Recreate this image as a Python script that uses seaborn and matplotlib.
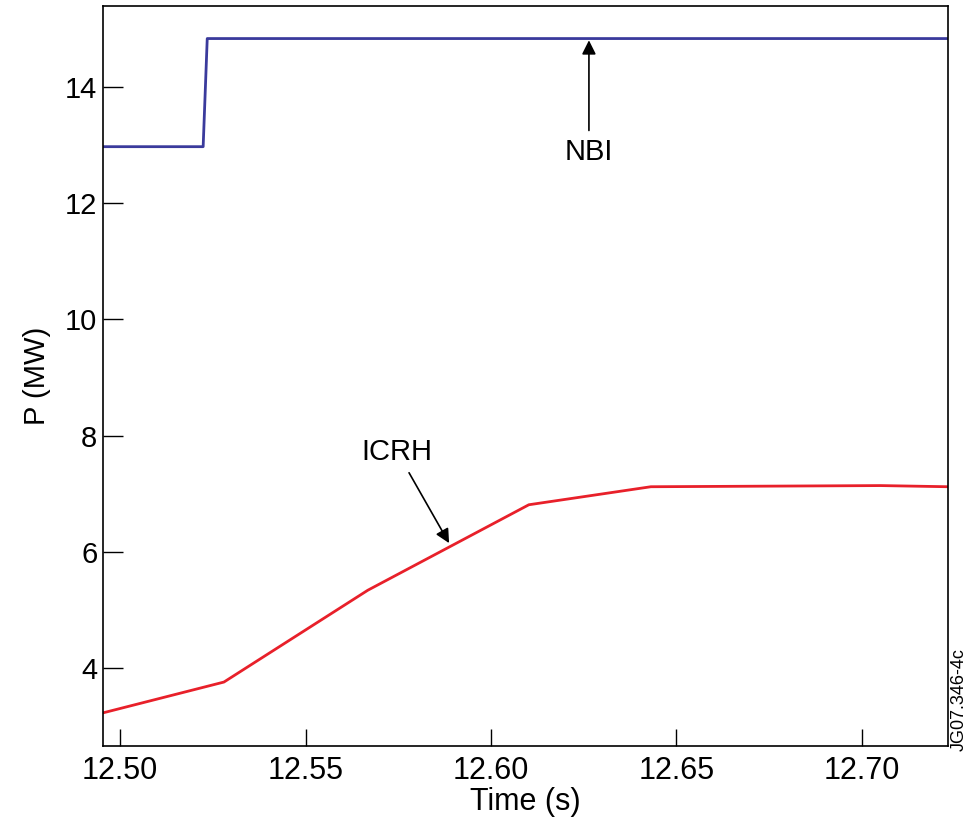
import pandas as pd
import matplotlib.pyplot as plt
import numpy as np
import seaborn as sns

# NBI power trace (step)
nbi_t = [12.4954, 12.5224, 12.5235, 12.7232]
nbi_p = [12.97, 12.97, 14.83, 14.83]

# ICRH power trace
icrh_t = [12.4954, 12.528, 12.5668, 12.6102, 12.6431, 12.705, 12.7232]
icrh_p = [3.23, 3.76, 5.34, 6.81, 7.12, 7.14, 7.12]

sns.set_style("ticks")
plt.rcParams['font.family'] = ['Liberation Sans', 'DejaVu Sans']
plt.rcParams['text.color'] = 'black'
plt.rcParams['axes.labelcolor'] = 'black'
plt.rcParams['xtick.color'] = 'black'
plt.rcParams['ytick.color'] = 'black'
plt.rcParams['axes.edgecolor'] = 'black'

df_nbi = pd.DataFrame({"t": nbi_t, "P": nbi_p})
df_icrh = pd.DataFrame({"t": icrh_t, "P": icrh_p})

fig = plt.figure(figsize=(9.68, 8.19), dpi=100)
ax = fig.add_axes([103/968, 1 - 746/819, 845/968, 740/819])

sns.lineplot(data=df_nbi, x="t", y="P", ax=ax, color="#3a3a9c", linewidth=2, sort=False)
sns.lineplot(data=df_icrh, x="t", y="P", ax=ax, color="#e8202a", linewidth=2, sort=False)

ax.set_xlim(12.4954, 12.7232)
ax.set_ylim(2.66, 15.39)
ax.set_xticks([12.50, 12.55, 12.60, 12.65, 12.70])
ax.set_xticklabels(["12.50", "12.55", "12.60", "12.65", "12.70"])
ax.set_yticks([4, 6, 8, 10, 12, 14])
ax.tick_params(axis="x", direction="in", length=12.5, width=1, labelsize=22, pad=7)
ax.tick_params(axis="y", direction="in", length=14.5, width=1, labelsize=21, pad=4)
for s in ax.spines.values():
    s.set_linewidth(1.2)

ax.set_xlabel("Time (s)", fontsize=22, labelpad=1)
ax.set_ylabel("P (MW)", fontsize=21, labelpad=10)

ax.annotate("NBI", xy=(12.6264, 14.80), xytext=(12.6264, 12.88),
            ha="center", va="center", fontsize=21,
            arrowprops=dict(arrowstyle="-|>", color="black", lw=1.2, shrinkA=3, shrinkB=0))
ax.annotate("ICRH", xy=(12.5887, 6.15), xytext=(12.5747, 7.72),
            ha="center", va="center", fontsize=21,
            arrowprops=dict(arrowstyle="-|>", color="black", lw=1.2, shrinkA=3, shrinkB=0))

fig.text(959/968, 1 - 700/819, "JG07.346-4c", rotation=90, ha="center", va="center", fontsize=13)

fig.savefig("out.png", dpi=100)
